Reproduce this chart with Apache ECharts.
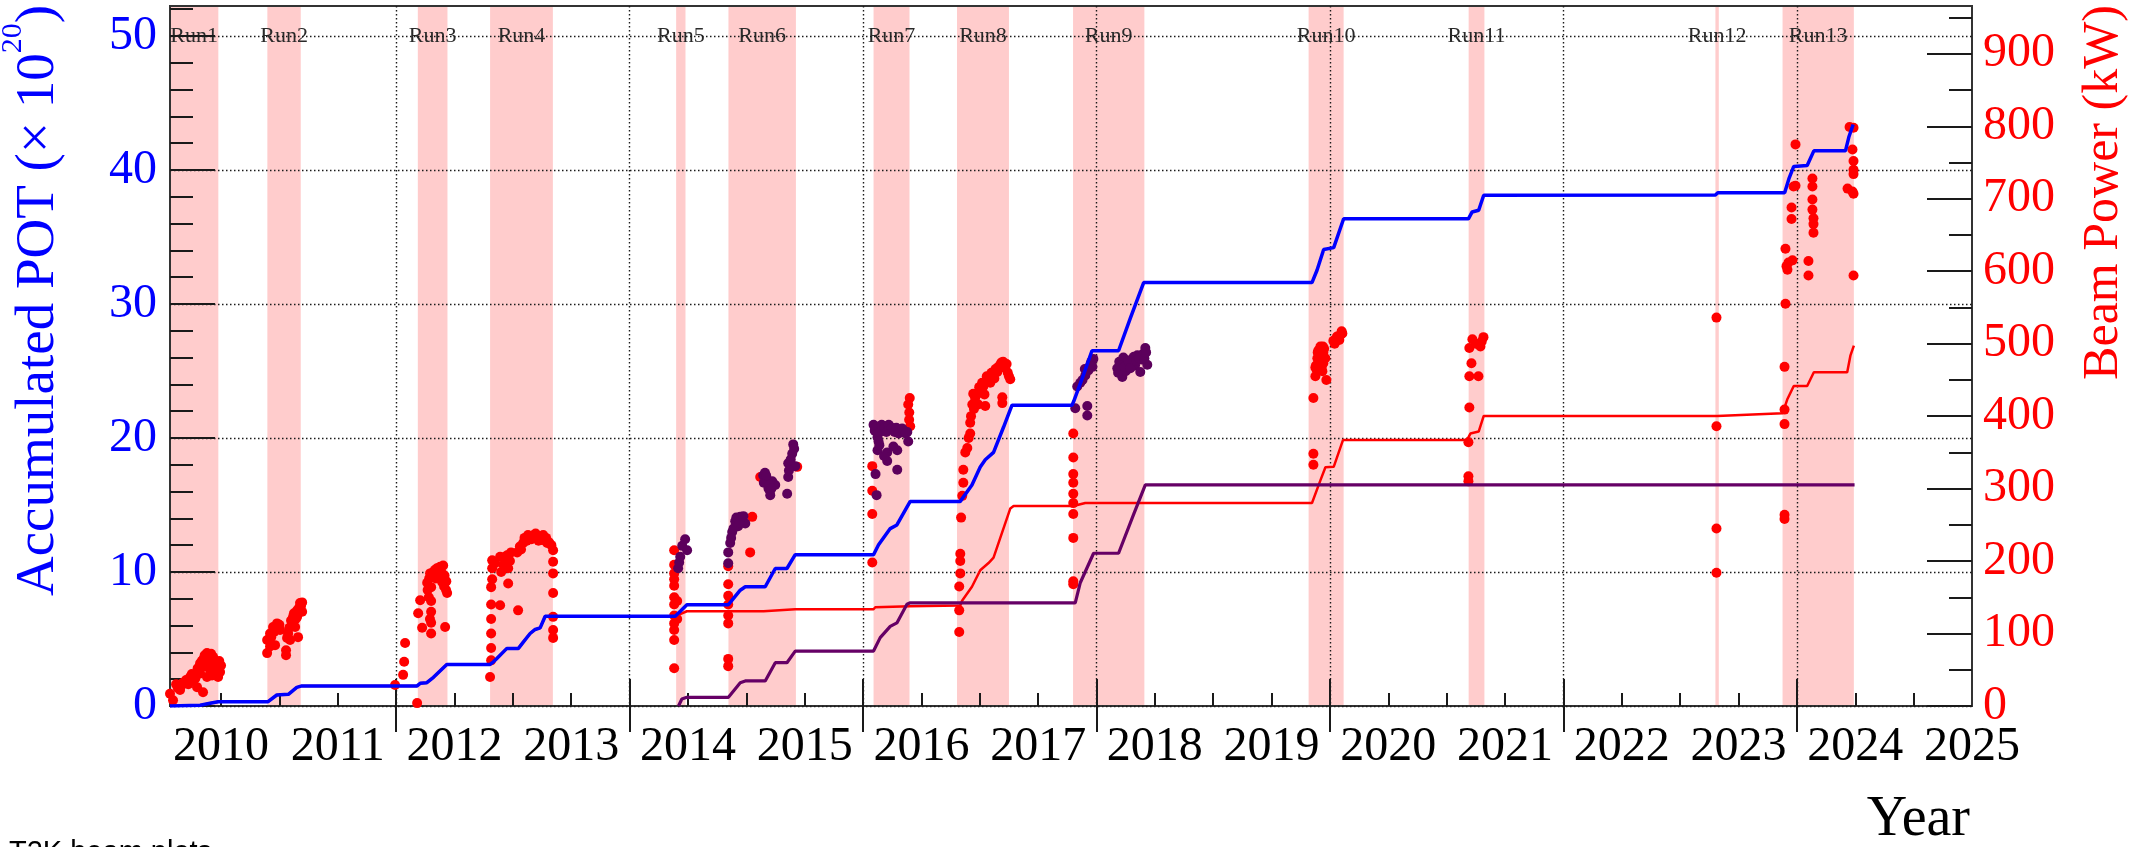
<!DOCTYPE html>
<html>
<head>
<meta charset="utf-8">
<script src="https://cdn.jsdelivr.net/npm/echarts@6/dist/echarts.min.js"></script>
<style>
  html, body { margin: 0; padding: 0; background: #ffffff; }
  #chart { width: 2134px; height: 847px; }
</style>
</head>
<body>
<div id="chart"></div>
<script>
// ---- Axis ranges and tick marks (decimal years / POT x1e20 / kW) ----
const yearMin = 2010.063;
const yearMax = 2025.5;
const potMax = 52.24;
const powerMax = 966;

const yearLabels = [2010, 2011, 2012, 2013, 2014, 2015, 2016, 2017, 2018, 2019, 2020, 2021, 2022, 2023, 2024, 2025];
const evenYearTicks = [2012, 2014, 2016, 2018, 2020, 2022, 2024];
const halfYearTicks = [2010.5, 2011, 2011.5, 2012, 2012.5, 2013, 2013.5, 2014, 2014.5, 2015, 2015.5,
  2016, 2016.5, 2017, 2017.5, 2018, 2018.5, 2019, 2019.5, 2020, 2020.5, 2021, 2021.5,
  2022, 2022.5, 2023, 2023.5, 2024, 2024.5, 2025];
const potTicks = [0, 10, 20, 30, 40, 50];
const potMinorTicks = [2, 4, 6, 8, 12, 14, 16, 18, 22, 24, 26, 28, 32, 34, 36, 38, 42, 44, 46, 48, 52];
const powerTicks = [0, 100, 200, 300, 400, 500, 600, 700, 800, 900];
const powerMinorTicks = [50, 150, 250, 350, 450, 550, 650, 750, 850, 950];

// ---- Run periods (start / end, decimal year) ----
const runPeriods = [
  { name: 'Run1',  start: 2010.063, end: 2010.477 },
  { name: 'Run2',  start: 2010.897, end: 2011.183 },
  { name: 'Run3',  start: 2012.186, end: 2012.440 },
  { name: 'Run4',  start: 2012.805, end: 2013.343 },
  { name: 'Run5',  start: 2014.399, end: 2014.479 },
  { name: 'Run6',  start: 2014.847, end: 2015.425 },
  { name: 'Run7',  start: 2016.090, end: 2016.398 },
  { name: 'Run8',  start: 2016.805, end: 2017.250 },
  { name: 'Run9',  start: 2017.799, end: 2018.410 },
  { name: 'Run10', start: 2019.817, end: 2020.117 },
  { name: 'Run11', start: 2021.188, end: 2021.323 },
  { name: 'Run12', start: 2023.302, end: 2023.331 },
  { name: 'Run13', start: 2023.877, end: 2024.488 }
];

// ---- Accumulated POT (x1e20) ----
const totalPot = [
  [2010.063, 0], [2010.321, 0.05], [2010.406, 0.2], [2010.475, 0.32], [2010.903, 0.32],
  [2010.978, 0.82], [2011.077, 0.87], [2011.149, 1.39], [2011.192, 1.5], [2012.180, 1.5],
  [2012.206, 1.69], [2012.263, 1.74], [2012.320, 2.14], [2012.434, 3.1], [2012.805, 3.1],
  [2012.834, 3.3], [2012.863, 3.55], [2012.949, 4.3], [2013.048, 4.3], [2013.091, 4.79],
  [2013.148, 5.41], [2013.191, 5.71], [2013.234, 5.83], [2013.277, 6.7], [2014.391, 6.7],
  [2014.491, 7.56], [2014.847, 7.56], [2014.948, 8.64], [2014.991, 8.9], [2015.162, 8.9],
  [2015.248, 10.26], [2015.348, 10.26], [2015.419, 11.29], [2016.090, 11.29], [2016.133, 12.03],
  [2016.233, 13.24], [2016.290, 13.51], [2016.404, 15.27], [2016.833, 15.27], [2016.933, 16.49],
  [2017.004, 17.84], [2017.047, 18.38], [2017.118, 18.93], [2017.204, 20.82], [2017.276, 22.45],
  [2017.790, 22.45], [2017.804, 22.72], [2017.890, 24.75], [2017.961, 26.51], [2018.189, 26.51],
  [2018.290, 28.94], [2018.404, 31.6], [2019.846, 31.6], [2019.889, 32.52], [2019.946, 34.07],
  [2020.032, 34.21], [2020.117, 36.36], [2021.186, 36.36], [2021.218, 36.87], [2021.274, 37.0],
  [2021.317, 38.12], [2023.302, 38.14], [2023.322, 38.3], [2023.895, 38.3], [2023.931, 39.33],
  [2023.973, 40.27], [2024.088, 40.33], [2024.145, 41.43], [2024.416, 41.43], [2024.445, 42.46],
  [2024.482, 43.4]
];

const nuPot = [
  [2010.063, 0], [2010.321, 0.05], [2010.406, 0.2], [2010.475, 0.32], [2010.903, 0.32],
  [2010.978, 0.82], [2011.077, 0.87], [2011.149, 1.39], [2011.192, 1.5], [2012.180, 1.5],
  [2012.206, 1.69], [2012.263, 1.74], [2012.320, 2.14], [2012.434, 3.1], [2012.805, 3.1],
  [2012.834, 3.3], [2012.863, 3.55], [2012.949, 4.3], [2013.048, 4.3], [2013.091, 4.79],
  [2013.148, 5.41], [2013.191, 5.71], [2013.234, 5.83], [2013.277, 6.7], [2014.391, 6.7],
  [2014.491, 7.07], [2015.148, 7.07], [2015.162, 7.15], [2015.419, 7.22], [2016.090, 7.22],
  [2016.105, 7.37], [2016.404, 7.45], [2016.833, 7.5], [2016.847, 7.83], [2016.933, 8.9],
  [2017.004, 10.13], [2017.075, 10.67], [2017.118, 11.07], [2017.261, 14.73], [2017.290, 14.92],
  [2017.801, 14.92], [2017.904, 15.15], [2019.846, 15.15], [2019.918, 16.84], [2019.961, 17.82],
  [2020.032, 17.85], [2020.112, 19.86], [2021.175, 19.86], [2021.203, 20.33], [2021.274, 20.48],
  [2021.317, 21.65], [2023.317, 21.65], [2023.328, 21.78], [2023.877, 21.84], [2023.917, 22.87],
  [2023.973, 23.88], [2024.088, 23.88], [2024.145, 24.91], [2024.431, 24.91], [2024.459, 26.17],
  [2024.488, 26.89]
];

const antiPot = [
  [2014.419, 0], [2014.448, 0.52], [2014.491, 0.65], [2014.847, 0.65], [2014.948, 1.74],
  [2014.991, 1.87], [2015.162, 1.87], [2015.248, 3.23], [2015.348, 3.23], [2015.419, 4.1],
  [2016.090, 4.1], [2016.147, 5.1], [2016.233, 5.94], [2016.290, 6.2], [2016.376, 7.6],
  [2016.404, 7.7], [2017.818, 7.7], [2017.861, 9.2], [2017.975, 11.4], [2018.189, 11.4],
  [2018.318, 14.3], [2018.418, 16.5], [2024.494, 16.5]
];

// ---- Beam power (kW), neutrino mode ----
const nuPower = [
  // Run1
  [2010.063, 17], [2010.089, 8], [2010.115, 30], [2010.149, 22], [2010.175, 32], [2010.201, 36],
  [2010.235, 40], [2010.261, 34], [2010.295, 26], [2010.321, 45], [2010.346, 19], [2010.321, 59],
  [2010.346, 64], [2010.363, 55], [2010.380, 73], [2010.380, 40], [2010.406, 66], [2010.406, 50],
  [2010.423, 42], [2010.432, 68], [2010.449, 60], [2010.475, 54], [2010.475, 40], [2010.492, 47],
  [2010.500, 56], [2010.130, 25], [2010.160, 28], [2010.220, 30], [2010.250, 44], [2010.280, 38],
  [2010.300, 52], [2010.335, 62], [2010.360, 70], [2010.395, 58], [2010.415, 72], [2010.440, 64],
  [2010.460, 48], [2010.485, 62],
  // Run2
  [2010.895, 73], [2010.895, 91], [2010.920, 100], [2010.920, 82], [2010.946, 109], [2010.963, 84],
  [2010.980, 114], [2011.006, 105], [2011.057, 77], [2011.057, 70], [2011.066, 94], [2011.075, 100],
  [2011.092, 91], [2011.109, 114], [2011.117, 123], [2011.135, 109], [2011.152, 132], [2011.152, 123],
  [2011.160, 95], [2011.177, 142], [2011.195, 143], [2011.195, 130], [2010.930, 95], [2010.955, 102],
  [2011.000, 112], [2011.085, 108], [2011.100, 118], [2011.125, 128], [2011.140, 120], [2011.170, 136],
  [2011.185, 138],
  // Run3
  [2011.991, 29], [2012.060, 43], [2012.069, 61], [2012.077, 87], [2012.180, 4], [2012.189, 128],
  [2012.206, 146], [2012.223, 108], [2012.266, 170], [2012.283, 176], [2012.291, 183], [2012.300, 100],
  [2012.300, 115], [2012.300, 130], [2012.300, 145], [2012.300, 164], [2012.317, 185], [2012.334, 188],
  [2012.360, 180], [2012.377, 192], [2012.394, 171], [2012.403, 194], [2012.411, 165], [2012.420, 109],
  [2012.428, 160], [2012.437, 156], [2012.270, 160], [2012.310, 178], [2012.340, 176], [2012.350, 190],
  [2012.385, 186], [2012.415, 180], [2012.430, 172], [2012.280, 150], [2012.290, 120],
  // Run4
  [2012.805, 40], [2012.814, 63], [2012.814, 80], [2012.814, 100], [2012.814, 120], [2012.814, 140],
  [2012.814, 164], [2012.823, 175], [2012.823, 190], [2012.823, 201], [2012.848, 197], [2012.891, 206],
  [2012.891, 139], [2012.900, 185], [2012.934, 206], [2012.951, 208], [2012.960, 169], [2012.975, 200],
  [2013.037, 212], [2013.045, 132], [2013.060, 220], [2013.088, 225], [2013.120, 228], [2013.148, 231],
  [2013.180, 236], [2013.208, 233], [2013.230, 234], [2013.251, 229], [2013.270, 230], [2013.294, 225],
  [2013.345, 215], [2013.345, 199], [2013.345, 183], [2013.345, 156], [2013.345, 123], [2013.345, 105],
  [2013.345, 94], [2013.070, 216], [2013.100, 232], [2013.130, 236], [2013.160, 230], [2013.195, 238],
  [2013.220, 228], [2013.260, 236], [2013.285, 232], [2013.310, 226], [2013.330, 222], [2012.920, 195],
  [2012.960, 190], [2012.985, 212],
  // Run5
  [2014.382, 52], [2014.382, 91], [2014.382, 105], [2014.382, 114], [2014.382, 125], [2014.382, 140],
  [2014.382, 150], [2014.382, 166], [2014.382, 175], [2014.382, 183], [2014.382, 195], [2014.382, 215],
  [2014.408, 145], [2014.408, 120],
  // Run6
  [2014.845, 55], [2014.845, 65], [2014.845, 114], [2014.845, 125], [2014.845, 140], [2014.845, 152],
  [2014.845, 168], [2014.845, 193], [2015.033, 212], [2015.051, 261], [2015.119, 316], [2015.436, 330],
  // Run7
  [2016.079, 331], [2016.079, 297], [2016.079, 265], [2016.079, 198], [2016.387, 416], [2016.396, 405],
  [2016.404, 386], [2016.400, 425], [2016.395, 395],
  // Run8
  [2016.824, 102], [2016.824, 132], [2016.824, 165], [2016.833, 183], [2016.833, 200], [2016.833, 210],
  [2016.859, 308], [2016.859, 326], [2016.876, 350], [2016.893, 356], [2016.918, 376], [2016.918, 391],
  [2016.936, 416], [2016.944, 431], [2016.960, 425], [2016.987, 416], [2017.010, 436], [2017.030, 441],
  [2017.047, 414], [2017.070, 450], [2017.090, 446], [2017.116, 456], [2017.135, 465], [2017.150, 461],
  [2017.176, 471], [2017.193, 426], [2017.193, 418], [2017.200, 475], [2017.219, 466], [2017.240, 460],
  [2017.261, 451], [2016.840, 260], [2016.850, 290], [2016.905, 370], [2016.925, 400], [2016.950, 410],
  [2016.975, 430], [2016.995, 440], [2017.020, 446], [2017.040, 430], [2017.060, 455], [2017.100, 460],
  [2017.125, 452], [2017.160, 468], [2017.185, 474], [2017.210, 470], [2017.230, 472], [2017.250, 455],
  // Run9
  [2017.801, 168], [2017.801, 172], [2017.801, 232], [2017.801, 265], [2017.801, 280], [2017.801, 293],
  [2017.801, 308], [2017.801, 320], [2017.801, 343], [2017.801, 376],
  // Run10
  [2019.858, 333], [2019.858, 348], [2019.858, 425], [2019.875, 455], [2019.875, 467], [2019.892, 480],
  [2019.892, 462], [2019.901, 491], [2019.910, 485], [2019.918, 496], [2019.925, 478], [2019.935, 462],
  [2019.943, 488], [2019.943, 473], [2019.950, 493], [2019.969, 450], [2020.029, 504], [2020.050, 506],
  [2020.072, 509], [2020.090, 512], [2020.106, 514], [2019.880, 470], [2019.895, 488], [2019.905, 475],
  [2019.915, 490], [2019.930, 468], [2019.940, 496], [2019.960, 480], [2020.040, 500], [2020.060, 510],
  [2020.080, 505], [2020.100, 517],
  // Run11
  [2021.186, 364], [2021.186, 317], [2021.186, 310], [2021.194, 455], [2021.194, 494], [2021.194, 412],
  [2021.212, 473], [2021.220, 506], [2021.250, 500], [2021.272, 455], [2021.289, 496], [2021.300, 503],
  [2021.315, 509],
  // Run12
  [2023.311, 536], [2023.311, 386], [2023.311, 245], [2023.311, 184],
  // Run13
  [2023.894, 258], [2023.894, 264], [2023.894, 389], [2023.894, 409], [2023.894, 468], [2023.902, 555],
  [2023.902, 631], [2023.911, 607], [2023.919, 602], [2023.928, 612], [2023.954, 672], [2023.954, 688],
  [2023.962, 615], [2023.971, 717], [2023.988, 718], [2023.988, 775], [2024.099, 614], [2024.099, 594],
  [2024.133, 728], [2024.133, 717], [2024.133, 699], [2024.133, 685], [2024.142, 673], [2024.142, 665],
  [2024.142, 653], [2024.434, 714], [2024.451, 799], [2024.476, 768], [2024.476, 710], [2024.485, 798],
  [2024.485, 752], [2024.485, 740], [2024.485, 734], [2024.485, 707], [2024.485, 594]
];

// ---- Beam power (kW), antineutrino mode ----
const antiPower = [
  // Run5
  [2014.416, 190], [2014.425, 198], [2014.434, 206], [2014.451, 221], [2014.476, 230], [2014.493, 215],
  // Run6
  [2014.845, 212], [2014.845, 197], [2014.862, 225], [2014.879, 240], [2014.905, 255], [2014.930, 248],
  [2014.948, 261], [2014.965, 258], [2014.991, 252], [2015.145, 318], [2015.160, 322], [2015.179, 313],
  [2015.190, 300], [2015.205, 291], [2015.222, 310], [2015.248, 305], [2015.350, 293], [2015.359, 316],
  [2015.359, 335], [2015.393, 348], [2015.402, 361], [2015.419, 331], [2014.870, 232], [2014.890, 245],
  [2014.915, 260], [2014.940, 253], [2014.975, 262], [2015.150, 308], [2015.170, 318], [2015.200, 305],
  [2015.215, 300], [2015.365, 325], [2015.380, 340], [2015.410, 355],
  // Run7
  [2016.090, 388], [2016.100, 380], [2016.107, 320], [2016.116, 291], [2016.124, 371], [2016.124, 353],
  [2016.133, 365], [2016.150, 386], [2016.170, 380], [2016.207, 386], [2016.207, 350], [2016.207, 338],
  [2016.230, 383], [2016.259, 381], [2016.293, 353], [2016.293, 326], [2016.319, 381], [2016.350, 380],
  [2016.379, 378], [2016.387, 365], [2016.110, 384], [2016.140, 378], [2016.160, 388], [2016.185, 384],
  [2016.200, 378], [2016.220, 388], [2016.245, 384], [2016.270, 378], [2016.285, 384], [2016.305, 376],
  [2016.335, 383], [2016.365, 376], [2016.140, 360], [2016.180, 345], [2016.260, 358],
  // Run9
  [2017.818, 411], [2017.835, 441], [2017.861, 446], [2017.904, 456], [2017.921, 414], [2017.921, 401],
  [2017.930, 463], [2017.947, 471], [2017.973, 479], [2018.178, 466], [2018.195, 475], [2018.221, 454],
  [2018.230, 481], [2018.250, 462], [2018.264, 471], [2018.307, 479], [2018.330, 470], [2018.350, 484],
  [2018.375, 461], [2018.385, 478], [2018.401, 486], [2018.418, 494], [2018.435, 471], [2017.880, 450],
  [2017.900, 465], [2017.955, 475], [2017.965, 468], [2018.185, 460], [2018.205, 470], [2018.240, 468],
  [2018.275, 476], [2018.290, 466], [2018.320, 482], [2018.340, 476], [2018.365, 480], [2018.410, 480],
  [2018.425, 488]
];

// ---- Styling ----
const SERIF = '"Liberation Serif", "Times New Roman", serif';
const SANS = '"Liberation Sans", Arial, sans-serif';
const RED = '#ff0000';
const BLUE = '#0000ff';
const PURPLE_LINE = '#660066';
const PURPLE_DOT = '#5c005c';
const BAND = '#ffcccc';
const tickStyle = { color: '#1a1a1a', width: 2 };
const dotted = { color: '#1a1a1a', width: 1.4, type: [1.5, 2.5] };

const chart = echarts.init(document.getElementById('chart'), null, { renderer: 'canvas' });

const hiddenAxisParts = { axisLine: { show: false }, axisLabel: { show: false }, splitLine: { show: false } };

const option = {
  animation: false,
  backgroundColor: '#ffffff',
  tooltip: { show: false },
  grid: {
    left: 170, right: 162, top: 6, height: 700,
    show: true, borderColor: '#333333', borderWidth: 2, backgroundColor: 'transparent',
    containLabel: false, outerBoundsMode: 'none'
  },
  xAxis: [
    {
      type: 'value', min: yearMin, max: yearMax, position: 'bottom',
      axisLine: { show: false }, splitLine: { show: false },
      axisTick: { show: true, inside: true, length: 13, lineStyle: tickStyle, customValues: halfYearTicks },
      axisLabel: {
        show: true, customValues: yearLabels.map(y => y + 0.5),
        formatter: v => String(Math.floor(v)),
        margin: 17, fontSize: 48, fontFamily: SERIF, color: '#000000',
        showMinLabel: true, showMaxLabel: true, hideOverlap: false
      }
    },
    {
      type: 'value', min: yearMin, max: yearMax, position: 'bottom',
      axisLine: { show: false }, axisLabel: { show: false },
      axisTick: { show: true, inside: true, length: 27, lineStyle: tickStyle, customValues: evenYearTicks },
      splitLine: { show: true, lineStyle: dotted }
    },
    Object.assign({
      type: 'value', min: yearMin, max: yearMax, position: 'bottom',
      axisTick: { show: true, inside: false, length: 26, lineStyle: tickStyle, customValues: evenYearTicks }
    }, hiddenAxisParts)
  ],
  yAxis: [
    {
      type: 'value', min: 0, max: potMax, position: 'left',
      axisLine: { show: false },
      axisTick: { show: true, inside: true, length: 45, lineStyle: tickStyle, customValues: potTicks },
      axisLabel: { customValues: potTicks, margin: 13, fontSize: 48, fontFamily: SERIF, color: BLUE },
      splitLine: { show: true, lineStyle: dotted }
    },
    Object.assign({
      type: 'value', min: 0, max: potMax, position: 'left',
      axisTick: { show: true, inside: true, length: 23, lineStyle: tickStyle, customValues: potMinorTicks }
    }, hiddenAxisParts),
    {
      type: 'value', min: 0, max: powerMax, position: 'right',
      axisLine: { show: false }, splitLine: { show: false },
      axisTick: { show: true, inside: true, length: 45, lineStyle: tickStyle, customValues: powerTicks },
      axisLabel: { customValues: powerTicks, margin: 11, fontSize: 48, fontFamily: SERIF, color: RED }
    },
    Object.assign({
      type: 'value', min: 0, max: powerMax, position: 'right',
      axisTick: { show: true, inside: true, length: 23, lineStyle: tickStyle, customValues: powerMinorTicks }
    }, hiddenAxisParts)
  ],
  series: [
    {
      // shaded run periods with their run names on the 50 grid line
      type: 'custom', name: 'Runs', xAxisIndex: 0, yAxisIndex: 0, z: -1, silent: true,
      data: runPeriods.map(r => [r.start, r.end]),
      encode: { x: [0, 1] },
      renderItem: (params, api) => {
        const run = runPeriods[params.dataIndex];
        const a = api.coord([api.value(0), 0]);
        const b = api.coord([api.value(1), 0]);
        const labelY = api.coord([api.value(0), 50])[1];
        const cs = params.coordSys;
        return {
          type: 'group',
          children: [
            { type: 'rect', shape: { x: a[0], y: cs.y, width: Math.max(b[0] - a[0], 2), height: cs.height },
              style: { fill: BAND } },
            { type: 'text', x: (a[0] + b[0]) / 2, y: labelY,
              style: { text: run.name, fill: '#2a2a2a', fontSize: 22, fontFamily: SERIF,
                       align: 'center', verticalAlign: 'middle' } }
          ]
        };
      }
    },
    {
      type: 'scatter', name: 'Beam power (ν)', xAxisIndex: 0, yAxisIndex: 2, z: 2, silent: true,
      data: nuPower, symbol: 'circle', symbolSize: 10, itemStyle: { color: RED, opacity: 1 }
    },
    {
      type: 'scatter', name: 'Beam power (ν̄)', xAxisIndex: 0, yAxisIndex: 2, z: 3, silent: true,
      data: antiPower, symbol: 'circle', symbolSize: 10, itemStyle: { color: PURPLE_DOT, opacity: 1 }
    },
    {
      type: 'line', name: 'POT (ν)', xAxisIndex: 0, yAxisIndex: 0, z: 4, silent: true,
      data: nuPot, showSymbol: false, symbol: 'none', lineStyle: { color: RED, width: 2.5 }
    },
    {
      type: 'line', name: 'POT (ν̄)', xAxisIndex: 0, yAxisIndex: 0, z: 5, silent: true,
      data: antiPot, showSymbol: false, symbol: 'none', lineStyle: { color: PURPLE_LINE, width: 3.2 }
    },
    {
      type: 'line', name: 'POT (total)', xAxisIndex: 0, yAxisIndex: 0, z: 6, silent: true,
      data: totalPot, showSymbol: false, symbol: 'none', lineStyle: { color: BLUE, width: 3.5 }
    }
  ],
  graphic: [
    {
      type: 'text', x: 66, y: 5, rotation: Math.PI / 2, silent: true,
      style: {
        text: '{b|Accumulated POT (× 10}{s|20}{b|)}',
        align: 'right', verticalAlign: 'bottom',
        rich: {
          b: { fontSize: 55, fontFamily: SERIF, fill: BLUE, lineHeight: 60, verticalAlign: 'bottom' },
          s: { fontSize: 30, fontFamily: SERIF, fill: BLUE, lineHeight: 30, verticalAlign: 'bottom', padding: [0, 0, 38, 0] }
        }
      }
    },
    {
      type: 'text', x: 2129, y: 5, rotation: Math.PI / 2, silent: true,
      style: { text: 'Beam Power (kW)', align: 'right', verticalAlign: 'bottom',
               fontSize: 50, fontFamily: SERIF, fill: RED, lineHeight: 50 }
    },
    {
      type: 'text', x: 1970, y: 820, silent: true,
      style: { text: 'Year', align: 'right', verticalAlign: 'middle',
               fontSize: 56, fontFamily: SERIF, fill: '#000000' }
    },
    {
      type: 'text', x: 9, y: 838, silent: true,
      style: { text: 'T2K beam plots', align: 'left', verticalAlign: 'top',
               fontSize: 29, fontFamily: SANS, fill: '#000000' }
    }
  ]
};

chart.setOption(option);
</script>
</body>
</html>
